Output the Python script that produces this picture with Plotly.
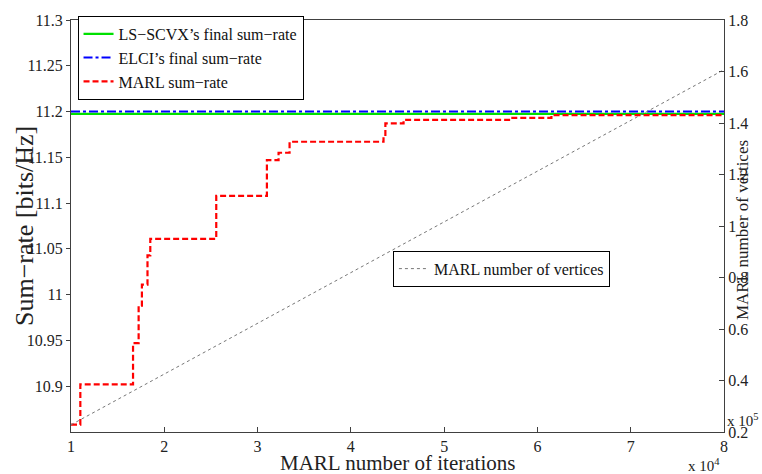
import plotly.graph_objects as go

# ---------------- data ----------------
iter_range = [1.0, 8.0]
ls_scvx_rate = [11.1975, 11.1975]
elci_rate = [11.2, 11.2]

marl_iter = [1.0, 1.1, 1.665, 1.725, 1.76, 1.82, 1.85, 2.557, 3.10, 3.225, 3.343,
             4.35, 4.37, 4.565, 5.71, 6.15, 8.0]
marl_rate = [10.858, 10.902, 10.947, 10.988, 11.011, 11.043, 11.061, 11.108, 11.147,
             11.155, 11.167, 11.172, 11.187, 11.191, 11.193, 11.196, 11.196]

vert_iter = [1, 2, 3, 4, 5, 6, 7, 8]
vert_count = [0.228, 0.425, 0.622, 0.819, 1.016, 1.213, 1.41, 1.607]

x_ticks = [1, 2, 3, 4, 5, 6, 7, 8]
y_ticks = [10.9, 10.95, 11.0, 11.05, 11.1, 11.15, 11.2, 11.25, 11.3]
y_ticktext = ["10.9", "10.95", "11", "11.05", "11.1", "11.15", "11.2", "11.25", "11.3"]
y2_ticks = [0.2, 0.4, 0.6, 0.8, 1.0, 1.2, 1.4, 1.6, 1.8]
y2_ticktext = ["0.2", "0.4", "0.6", "0.8", "1", "1.2", "1.4", "1.6", "1.8"]

FONT = "Liberation Serif"
AX = "#404040"
TXT = "#222222"

fig = go.Figure()
fig.add_trace(go.Scatter(x=iter_range, y=ls_scvx_rate, mode="lines",
                         name="LS−SCVX’s final sum−rate",
                         line=dict(color="#00e000", width=2.2), legend="legend"))
fig.add_trace(go.Scatter(x=iter_range, y=elci_rate, mode="lines",
                         name="ELCI’s final sum−rate",
                         line=dict(color="#0000ff", width=2, dash="dashdot"), legend="legend"))
fig.add_trace(go.Scatter(x=marl_iter, y=marl_rate, mode="lines", line_shape="hv",
                         name="MARL sum−rate",
                         line=dict(color="#ff0000", width=2.2, dash="6px,3px"), legend="legend"))
fig.add_trace(go.Scatter(x=vert_iter, y=vert_count, mode="lines", yaxis="y2",
                         name="MARL number of vertices",
                         line=dict(color="#777777", width=1, dash="dot"), legend="legend2"))

fig.update_layout(
    width=762, height=474,
    margin=dict(l=71, r=38, t=15, b=42),
    paper_bgcolor="white", plot_bgcolor="white",
    font=dict(family=FONT, size=16, color=TXT),
    xaxis=dict(range=[1, 8], tickvals=x_ticks, ticktext=[str(v) for v in x_ticks],
               showgrid=False, zeroline=False, showline=True, linecolor=AX, linewidth=1,
               mirror=True, ticks="inside", ticklen=5, tickcolor=AX,
               tickfont=dict(family=FONT, size=16, color=TXT)),
    yaxis=dict(range=[10.85, 11.3], tickvals=y_ticks, ticktext=y_ticktext,
               showgrid=False, zeroline=False, showline=True, linecolor=AX, linewidth=1,
               ticks="outside", ticklen=4, tickcolor=AX,
               tickfont=dict(family=FONT, size=16, color=TXT)),
    yaxis2=dict(range=[0.2, 1.8], tickvals=y2_ticks, ticktext=y2_ticktext,
                overlaying="y", side="right", showgrid=False, zeroline=False,
                showline=True, linecolor=AX, linewidth=1, ticks="inside", ticklen=5,
                tickcolor=AX, tickfont=dict(family=FONT, size=16, color=TXT)),
    legend=dict(x=0.01, y=1.01, xanchor="left", yanchor="top",
                bgcolor="white", bordercolor="black", borderwidth=1,
                font=dict(family=FONT, size=16, color="#111111"), itemwidth=30,
                tracegroupgap=0),
    legend2=dict(x=0.493, y=0.44, xanchor="left", yanchor="top",
                 bgcolor="white", bordercolor="black", borderwidth=1,
                 font=dict(family=FONT, size=16, color="#111111"), itemwidth=30),
    showlegend=True,
    annotations=[
        dict(text="MARL number of iterations", x=0.5, y=0.0, xref="paper", yref="paper",
             xanchor="center", yanchor="top", yshift=-17, showarrow=False,
             font=dict(family=FONT, size=21, color=TXT)),
        dict(text="Sum−rate [bits/Hz]", x=0, y=0.5, xref="paper", yref="paper",
             xanchor="center", yanchor="middle", xshift=-47, textangle=-90, showarrow=False,
             font=dict(family=FONT, size=26, color=TXT)),
        dict(text="MARL number of vertices", x=1, y=0.49, xref="paper", yref="paper",
             xanchor="center", yanchor="middle", xshift=18, textangle=-90, showarrow=False,
             font=dict(family=FONT, size=17, color=TXT)),
        dict(text="x 10<sup>4</sup>", x=1, y=0, xref="paper", yref="paper",
             xanchor="right", yanchor="top", xshift=-2, yshift=-22, showarrow=False,
             font=dict(family=FONT, size=15, color=TXT)),
        dict(text="x 10<sup>5</sup>", x=1, y=0, xref="paper", yref="paper",
             xanchor="left", yanchor="bottom", xshift=1, yshift=1, showarrow=False,
             font=dict(family=FONT, size=15, color=TXT)),
    ],
)

fig.write_html("out.html")
